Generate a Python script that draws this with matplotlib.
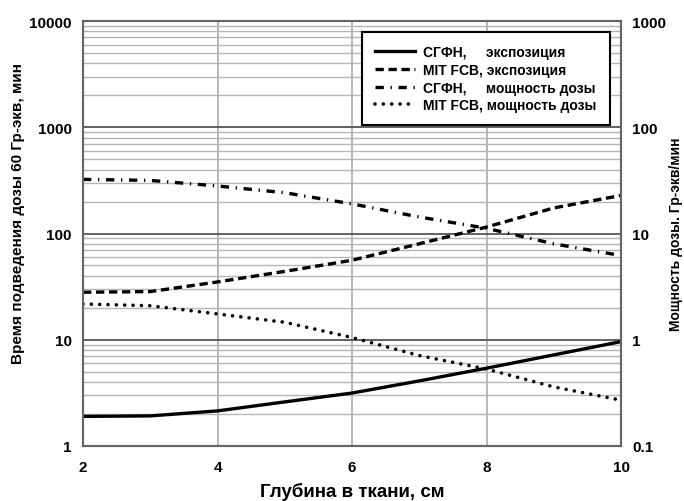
import matplotlib
matplotlib.use("Agg")
import matplotlib.pyplot as plt
from matplotlib.ticker import FixedLocator, NullFormatter

# глубина в ткани, см
depth = [2, 3, 4, 5, 6, 7, 8, 9, 10]

# время подведения дозы 60 Гр-экв, мин (левая ось)
sgfn_exp = [1.9, 1.92, 2.14, 2.6, 3.15, 4.1, 5.4, 7.2, 9.6]
mit_exp = [28, 28.4, 35, 44, 56, 80, 115, 174, 228]

# мощность дозы, Гр-экв/мин (правая ось)
sgfn_rate = [32.3, 31.6, 28, 24.2, 19, 14.3, 11.2, 8.0, 6.2]
mit_rate = [2.17, 2.09, 1.75, 1.46, 1.05, 0.71, 0.53, 0.36, 0.27]

labels = ['СГФН,     экспозиция', 'MIT FCB, экспозиция',
          'СГФН,     мощность дозы', 'MIT FCB, мощность дозы']

plt.rcParams['font.family'] = ['Liberation Sans', 'DejaVu Sans']
plt.rcParams['font.weight'] = 'bold'
plt.rcParams['axes.labelweight'] = 'bold'

fig = plt.figure(figsize=(6.84, 5.02), dpi=100)
ax = fig.add_axes([83 / 684, 1 - 447 / 502, (621 - 83) / 684, (447 - 22) / 502])
ax2 = ax.twinx()

ax.set_xlim(2, 10)
ax.set_yscale('log')
ax.set_ylim(1, 10000)
ax2.set_yscale('log')
ax2.set_ylim(0.1, 1000)

ax.set_xticks([2, 4, 6, 8, 10])
ax.set_yticks([1, 10, 100, 1000, 10000])
ax.set_yticklabels(['1', '10', '100', '1000', '10000'])
ax2.set_yticks([0.1, 1, 10, 100, 1000])
ax2.set_yticklabels(['0.1', '1', '10', '100', '1000'])
ax.yaxis.set_minor_formatter(NullFormatter())
ax2.yaxis.set_minor_formatter(NullFormatter())
ax2.yaxis.set_minor_locator(FixedLocator([]))

ax.grid(True, which='major', axis='y', color='#555555', lw=1.3)
ax.grid(True, which='minor', axis='y', color='#b5b5b5', lw=1.0)
ax.grid(True, which='major', axis='x', color='#aaaaaa', lw=1.2)
ax.set_axisbelow(True)

for a in (ax, ax2):
    a.tick_params(which='both', length=0, labelsize=11, pad=8)
    for s in a.spines.values():
        s.set_color('#666666')
        s.set_linewidth(1.5)
ax.tick_params(axis='x', pad=10)

l1, = ax.plot(depth, sgfn_exp, color='black', lw=2.4, label=labels[0])
l2, = ax.plot(depth, mit_exp, color='black', lw=2.4, ls=(0, (2.5, 1.4)), label=labels[1])
l3, = ax2.plot(depth, sgfn_rate, color='black', lw=2.4, ls=(0, (2.5, 2.0, 0.4, 2.0)), label=labels[2])
l4, = ax2.plot(depth, mit_rate, color='black', lw=2.6, ls=(0, (0.01, 2.3)),
               dash_capstyle='round', label=labels[3])

ax.set_xlabel('Глубина в ткани, см', fontsize=13.5)
ax.xaxis.set_label_coords(0.5, -0.084)
ax.set_ylabel('Время подведения дозы 60 Гр-экв, мин', fontsize=11)
ax.yaxis.set_label_coords(-0.108, 0.55)
ax2.set_ylabel('Мощность дозы. Гр-экв/мин', fontsize=10)
ax2.yaxis.set_label_coords(1.09, 0.5)

leg = ax2.legend(handles=[l1, l2, l3, l4], loc='upper right', fontsize=10,
                 fancybox=False, framealpha=1, edgecolor='black',
                 handlelength=2.9, labelspacing=0.26, borderaxespad=0.8,
                 borderpad=0.95, handletextpad=0.6)
leg.get_frame().set_linewidth(1.5)

fig.savefig('out.png', dpi=100)
